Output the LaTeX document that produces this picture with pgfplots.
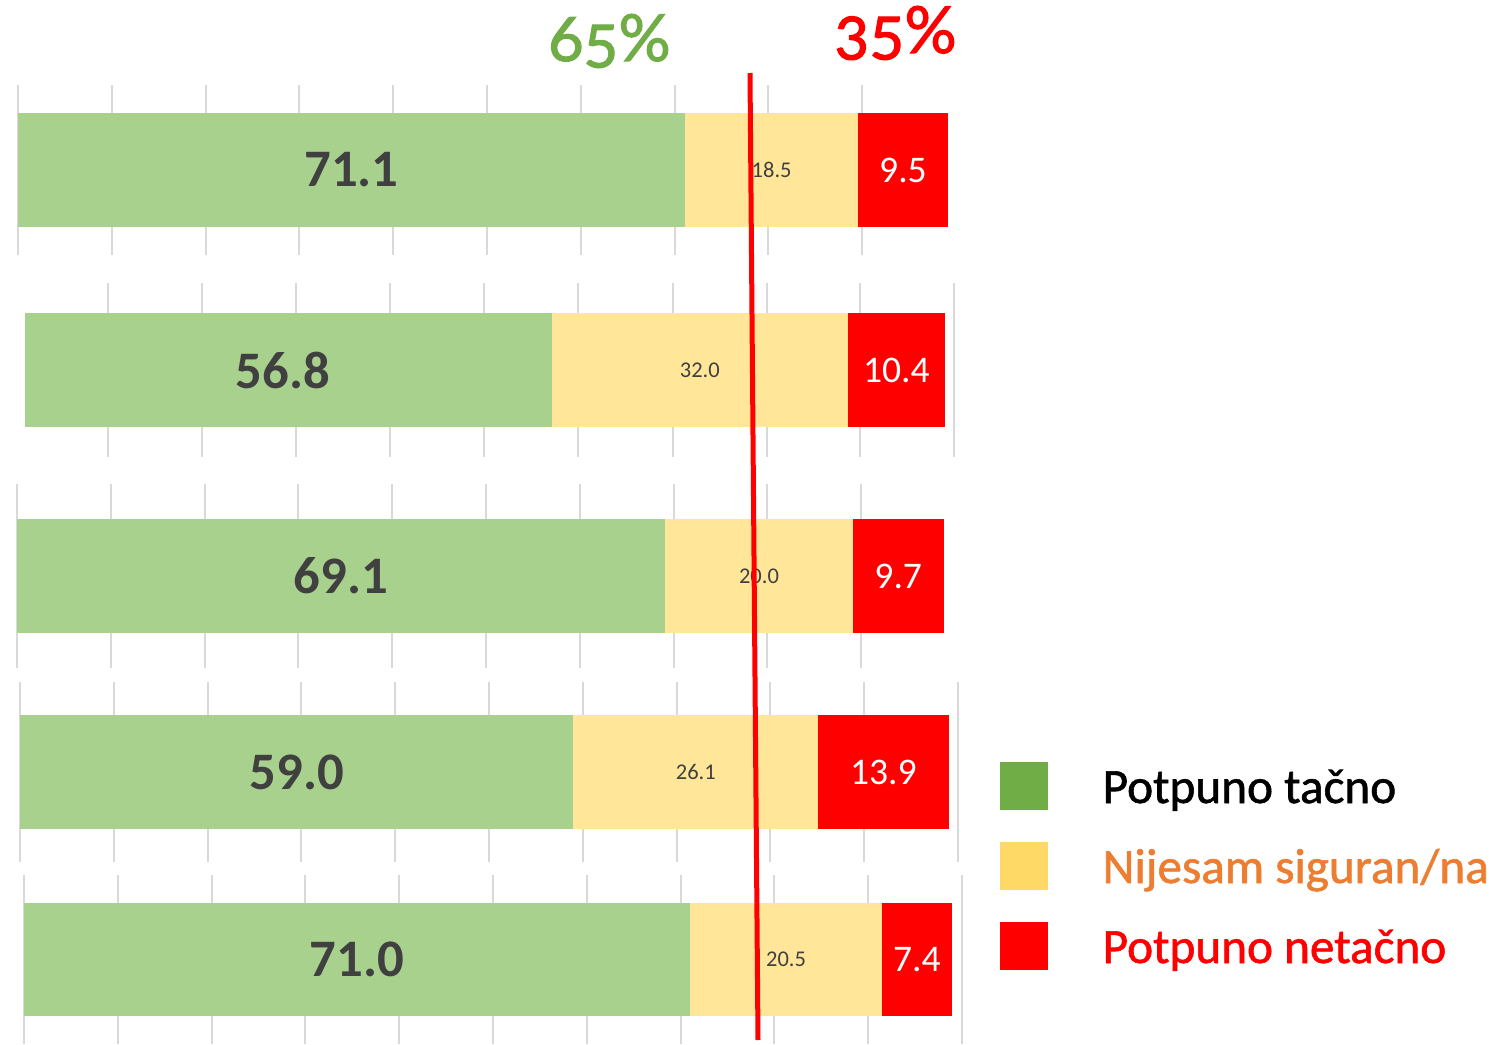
\documentclass[border=0pt]{standalone}
\usepackage{pgfplots}
\pgfplotsset{compat=1.18}
\usepackage{fontspec}
\setmainfont{Carlito}
\newfontfamily\titlefont[Numbers=OldStyle, FakeBold=1.6]{Lato}
\newfontfamily\keyfont[FakeBold=1.2]{Carlito}

\definecolor{bargreen}{HTML}{A9D18E}
\definecolor{baryellow}{HTML}{FFE699}
\definecolor{barred}{HTML}{FF0000}
\definecolor{labelgray}{HTML}{404040}
\definecolor{keygreen}{HTML}{70AD47}
\definecolor{keyyellow}{HTML}{FFD966}
\definecolor{keyorange}{HTML}{ED7D31}
\definecolor{gridgray}{HTML}{D9D9D9}

\newcommand{\fs}[1]{\fontsize{#1}{#1}\selectfont}

\pgfplotsset{
  panel/.style={
    scale only axis, width=9.38cm,
    xmin=0, xmax=100, ymin=0, ymax=1,
    xbar stacked, bar width=1.135cm,
    axis line style={draw=none}, tick style={draw=none},
    xtick={0,10,...,100}, xticklabels={}, ytick=\empty,
    xmajorgrids, major grid style={draw=gridgray, line width=0.2mm},
    anchor=west, clip=false,
  },
}
\tikzset{
  lblbig/.style={font=\fs{15}\bfseries, text=labelgray},
  lblsmall/.style={font=\fs{6.4}, text=labelgray},
  lblwhite/.style={font=\fs{10.7}, text=white},
}

\begin{document}
\begin{tikzpicture}
\useasboundingbox (0,0) rectangle (15.09,10.44);

% panel 1
\begin{axis}[panel, at={(0.18cm,8.74cm)}, height=1.70cm, xtick={0,10,...,90}]
\addplot[fill=bargreen, draw=none] coordinates {(71.1,0.5)};
\addplot[fill=baryellow, draw=none] coordinates {(18.5,0.5)};
\addplot[fill=barred, draw=none] coordinates {(9.5,0.5)};
\coordinate (g1) at (axis cs:35.55,0.5);
\coordinate (y1) at (axis cs:80.35,0.5);
\coordinate (r1) at (axis cs:94.35,0.5);
\end{axis}

% panel 2
\begin{axis}[panel, at={(0.25cm,6.74cm)}, height=1.74cm, xmax=101, width=9.363cm,
  xtick={8.95,19.1,29.2,39.4,49.5,59.7,69.9,80.0,90.1,100.2}]
\addplot[fill=bargreen, draw=none] coordinates {(56.8,0.5)};
\addplot[fill=baryellow, draw=none] coordinates {(32.0,0.5)};
\addplot[fill=barred, draw=none] coordinates {(10.4,0.5)};
\coordinate (g2) at (axis cs:27.8,0.5);
\coordinate (y2) at (axis cs:72.8,0.5);
\coordinate (r2) at (axis cs:94.0,0.5);
\end{axis}

% panel 3
\begin{axis}[panel, at={(0.17cm,4.68cm)}, height=1.84cm, xtick={0,10,...,90}]
\addplot[fill=bargreen, draw=none] coordinates {(69.1,0.5)};
\addplot[fill=baryellow, draw=none] coordinates {(20.0,0.5)};
\addplot[fill=barred, draw=none] coordinates {(9.7,0.5)};
\coordinate (g3) at (axis cs:34.55,0.5);
\coordinate (y3) at (axis cs:79.1,0.5);
\coordinate (r3) at (axis cs:93.95,0.5);
\end{axis}

% panel 4
\begin{axis}[panel, at={(0.20cm,2.72cm)}, height=1.80cm]
\addplot[fill=bargreen, draw=none] coordinates {(59.0,0.5)};
\addplot[fill=baryellow, draw=none] coordinates {(26.1,0.5)};
\addplot[fill=barred, draw=none] coordinates {(13.9,0.5)};
\coordinate (g4) at (axis cs:29.5,0.5);
\coordinate (y4) at (axis cs:72.05,0.5);
\coordinate (r4) at (axis cs:92.05,0.5);
\end{axis}

% panel 5
\begin{axis}[panel, at={(0.24cm,0.845cm)}, height=1.69cm]
\addplot[fill=bargreen, draw=none] coordinates {(71.0,0.5)};
\addplot[fill=baryellow, draw=none] coordinates {(20.5,0.5)};
\addplot[fill=barred, draw=none] coordinates {(7.4,0.5)};
\coordinate (g5) at (axis cs:35.5,0.5);
\coordinate (y5) at (axis cs:81.25,0.5);
\coordinate (r5) at (axis cs:95.2,0.5);
\end{axis}

% value labels
\node[lblbig] at (g1) {71.1};
\node[lblsmall] at (y1) {18.5};
\node[lblwhite] at (r1) {9.5};
\node[lblbig] at (g2) {56.8};
\node[lblsmall] at (y2) {32.0};
\node[lblwhite] at (r2) {10.4};
\node[lblbig] at (g3) {69.1};
\node[lblsmall] at (y3) {20.0};
\node[lblwhite] at (r3) {9.7};
\node[lblbig] at (g4) {59.0};
\node[lblsmall] at (y4) {26.1};
\node[lblwhite] at (r4) {13.9};
\node[lblbig] at (g5) {71.0};
\node[lblsmall] at (y5) {20.5};
\node[lblwhite] at (r5) {7.4};

% divider and headings
\draw[barred, line width=0.5mm] (7.50,9.71) -- (7.58,0.04);
\node[anchor=base, text=keygreen, font=\titlefont\fs{18.5}] at (6.095,9.83) {65\%};
\node[anchor=base, text=barred, font=\titlefont\fs{18.5}] at (8.955,9.91) {35\%};

% key
\fill[keygreen] (10.00,2.34) rectangle (10.48,2.82);
\fill[keyyellow] (10.00,1.54) rectangle (10.48,2.02);
\fill[barred] (10.00,0.74) rectangle (10.48,1.22);
\node[anchor=base west, inner sep=0pt, font=\keyfont\fs{14}, text=black] at (11.02,2.41) {Potpuno tačno};
\node[anchor=base west, inner sep=0pt, font=\keyfont\fs{14}, text=keyorange] at (11.02,1.61) {Nijesam siguran/na};
\node[anchor=base west, inner sep=0pt, font=\keyfont\fs{14}, text=barred] at (11.02,0.81) {Potpuno netačno};
\end{tikzpicture}
\end{document}
